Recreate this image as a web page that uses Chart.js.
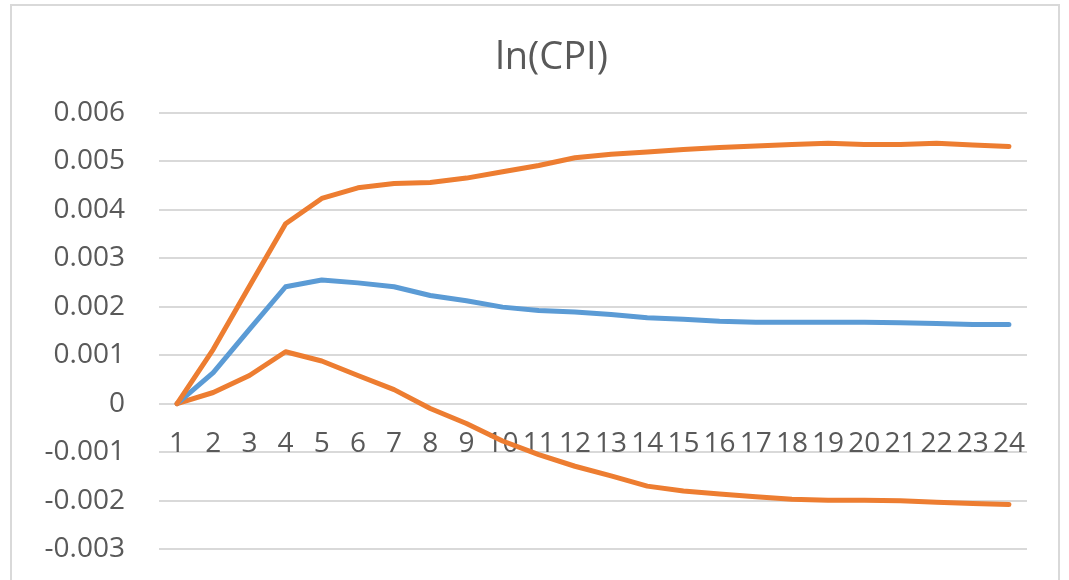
<!DOCTYPE html>
<html>
<head>
<meta charset="utf-8">
<script src="https://cdn.jsdelivr.net/npm/chart.js@4/dist/chart.umd.min.js"></script>
<style>
  html, body { margin: 0; padding: 0; background: #fff; overflow: hidden; }
  /* canvas runs a little past the window bottom, as the original frame is cropped there */
  #wrap { position: absolute; left: 0; top: 0; width: 1069px; height: 600px; }
  #frame { position: absolute; left: 10px; top: 4px; width: 1046px; height: 600px;
           border: 2px solid #d9d9d9; pointer-events: none; }
</style>
</head>
<body>
<div id="frame"></div>
<div id="wrap"><canvas id="chart"></canvas></div>
<script>
// periods 1..24
const periods = ['1','2','3','4','5','6','7','8','9','10','11','12',
                 '13','14','15','16','17','18','19','20','21','22','23','24'];

const response = [0, 0.00064, 0.00153, 0.00241, 0.00255, 0.00249, 0.00241, 0.00223,
                  0.00212, 0.00199, 0.00192, 0.00189, 0.00184, 0.00177, 0.00174, 0.00170,
                  0.00168, 0.00168, 0.00168, 0.00168, 0.00167, 0.00165, 0.00163, 0.00163];

const upperBand = [0, 0.00112, 0.00242, 0.00371, 0.00423, 0.00445, 0.00454, 0.00456,
                   0.00465, 0.00478, 0.00491, 0.00507, 0.00514, 0.00519, 0.00524, 0.00528,
                   0.00531, 0.00534, 0.00537, 0.00534, 0.00534, 0.00537, 0.00533, 0.00530];

const lowerBand = [0, 0.00023, 0.00058, 0.00107, 0.00088, 0.00058, 0.00029, -0.00010,
                   -0.00041, -0.00077, -0.00105, -0.00129, -0.00149, -0.00170, -0.00180, -0.00186,
                   -0.00192, -0.00197, -0.00199, -0.00199, -0.00200, -0.00203, -0.00206, -0.00208];

const yMin = -0.003, yMax = 0.006, yStep = 0.001;

const blue = '#5B9BD5';
const orange = '#ED7D31';
const textColor = '#595959';
const gridColor = '#d9d9d9';
const fontFamily = "'Open Sans', 'Noto Sans', sans-serif";

function lineSet(label, data, color) {
    return {
        label: label,
        data: data,
        borderColor: color,
        backgroundColor: color,
        borderWidth: 5,
        pointRadius: 0,
        tension: 0,
        borderJoinStyle: 'round',
        borderCapStyle: 'round',
        fill: false
    };
}

const ctx = document.getElementById('chart').getContext('2d');
new Chart(ctx, {
    type: 'line',
    data: {
        labels: periods,
        datasets: [
            lineSet('upper', upperBand, orange),
            lineSet('response', response, blue),
            lineSet('lower', lowerBand, orange)
        ]
    },
    options: {
        responsive: true,
        maintainAspectRatio: false,
        animation: false,
        layout: { padding: { left: 34, right: 0, top: 0, bottom: 31 } },
        plugins: {
            legend: { display: false },
            tooltip: { enabled: false },
            title: {
                display: true,
                text: 'ln(CPI)',
                color: textColor,
                font: { family: fontFamily, size: 38, weight: 'normal' },
                padding: { top: 35, bottom: 32 }
            }
        },
        scales: {
            x: {
                type: 'category',
                position: { y: 0 },
                offset: true,
                grid: { display: false, drawTicks: false },
                border: { display: false },
                ticks: {
                    autoSkip: false,
                    maxRotation: 0,
                    minRotation: 0,
                    padding: 24,
                    color: textColor,
                    font: { family: fontFamily, size: 28 }
                }
            },
            y: {
                min: yMin,
                max: yMax,
                grid: { color: gridColor, lineWidth: 2, drawTicks: false },
                border: { display: false },
                afterFit: (scale) => { scale.width = 125; },
                ticks: {
                    stepSize: yStep,
                    padding: 34,
                    color: textColor,
                    font: { family: fontFamily, size: 28 },
                    callback: (v) => Math.abs(v) < 1e-9 ? '0' : v.toFixed(3)
                }
            },
            // empty right-hand spacer for the gap before the frame
            spacer: {
                type: 'linear',
                position: 'right',
                grid: { display: false, drawTicks: false },
                border: { display: false },
                ticks: { display: false },
                afterFit: (scale) => { scale.width = 42; }
            }
        }
    }
});
</script>
</body>
</html>
